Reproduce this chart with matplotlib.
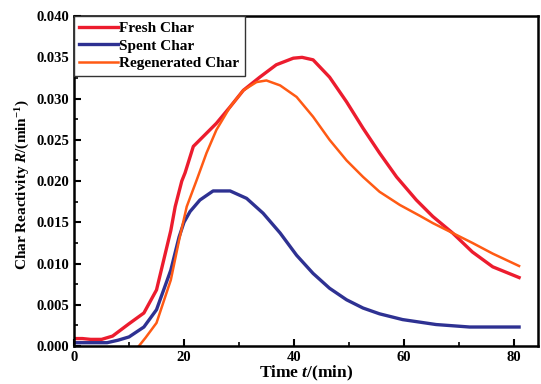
import matplotlib
matplotlib.use("Agg")
from matplotlib import pyplot as plt
from matplotlib.ticker import MultipleLocator

# values
fresh_t = [0, 1.5, 3, 5, 7, 10, 12.7, 15, 17.6, 18.4, 19.6, 20.2, 21.7, 23.5, 25.9, 28.4,
           30.8, 33.8, 36.8, 39.9, 41.5, 43.5, 46.5, 49.6, 52.6, 55.6, 58.7, 62.3, 65.3,
           68.9, 72.5, 76.2, 81]
fresh_r = [0.0009, 0.0009, 0.0008, 0.0008, 0.0012, 0.0027, 0.004, 0.0068, 0.014, 0.0169,
           0.020, 0.021, 0.0242, 0.0254, 0.027, 0.029, 0.031, 0.0326, 0.0341, 0.0349,
           0.035, 0.0347, 0.0326, 0.0296, 0.0264, 0.0234, 0.0205, 0.0177, 0.0157, 0.0137,
           0.0114, 0.0096, 0.0083]

spent_t = [0, 3, 6, 8, 10, 12.7, 15, 17.6, 19.1, 20, 21.1, 22.9, 25.3, 28.4, 31.4, 34.4,
           37.5, 40.5, 43.5, 46.5, 49.6, 52.6, 55.6, 59.8, 65.9, 72, 81]
spent_r = [0.0004, 0.0004, 0.0004, 0.0007, 0.0011, 0.0023, 0.0044, 0.0092, 0.0132, 0.0150,
           0.0163, 0.0177, 0.0188, 0.0188, 0.0179, 0.0161, 0.0137, 0.011, 0.0088, 0.007,
           0.0056, 0.0046, 0.0039, 0.0032, 0.0026, 0.0023, 0.0023]

regen_t = [11.8, 13, 15, 17.6, 19.1, 20.5, 22.3, 24.1, 25.9, 28.4, 30.8, 33.2, 35, 37.5,
           40.5, 43.5, 46.5, 49.6, 52.6, 55.6, 59.3, 62.9, 65.3, 68.9, 72.5, 76.2, 81]
regen_r = [0, 0.001, 0.0028, 0.008, 0.0128, 0.0169, 0.0201, 0.0234, 0.0262, 0.029, 0.031,
           0.032, 0.0322, 0.0316, 0.0302, 0.0278, 0.025, 0.0225, 0.0205, 0.0187, 0.0171,
           0.0158, 0.0149, 0.0137, 0.0125, 0.0112, 0.0097]

plt.rcParams["font.family"] = "Liberation Serif"
plt.rcParams["font.weight"] = "bold"
plt.rcParams["mathtext.fontset"] = "custom"
plt.rcParams["mathtext.rm"] = "Liberation Serif:bold"
plt.rcParams["mathtext.it"] = "Liberation Serif:bold:italic"
plt.rcParams["mathtext.bf"] = "Liberation Serif:bold"

fig = plt.figure(figsize=(5.41, 3.84), dpi=100)
ax = fig.add_axes([0.137, 0.099, 0.857, 0.859])

ax.plot(fresh_t, fresh_r, color="#ec1c2e", lw=2.4, label="Fresh Char")
ax.plot(spent_t, spent_r, color="#2e3192", lw=2.4, label="Spent Char")
ax.plot(regen_t, regen_r, color="#ff5a14", lw=1.8, label="Regenerated Char")

ax.set_xlim(0, 84.4)
ax.set_ylim(0, 0.040)
ax.xaxis.set_major_locator(MultipleLocator(20))
ax.xaxis.set_minor_locator(MultipleLocator(10))
ax.yaxis.set_major_locator(MultipleLocator(0.005))
ax.yaxis.set_minor_locator(MultipleLocator(0.0025))
ax.yaxis.set_major_formatter(plt.FormatStrFormatter("%.3f"))
ax.tick_params(which="major", direction="in", length=5, width=1.5, labelsize=10.5)
ax.tick_params(which="minor", direction="in", length=3, width=1.2)
for s in ax.spines.values():
    s.set_linewidth(1.8)

ax.set_xlabel("Time $t$/(min)", fontsize=12.5, fontweight="bold", labelpad=0)
ax.set_ylabel("Char Reactivity $R$/(min$^{-1}$)", fontsize=11, fontweight="bold")
ax.yaxis.set_label_coords(-0.09, 0.49)

leg = ax.legend(loc="upper left", borderaxespad=0, fancybox=False, framealpha=1,
                prop={"weight": "bold", "size": 11}, handlelength=2.5, handletextpad=0.1,
                labelspacing=0.25, borderpad=0.35)
leg.get_frame().set_edgecolor("#333333")
leg.get_frame().set_linewidth(1.0)

plt.savefig("out.png", dpi=100)
plt.close()
